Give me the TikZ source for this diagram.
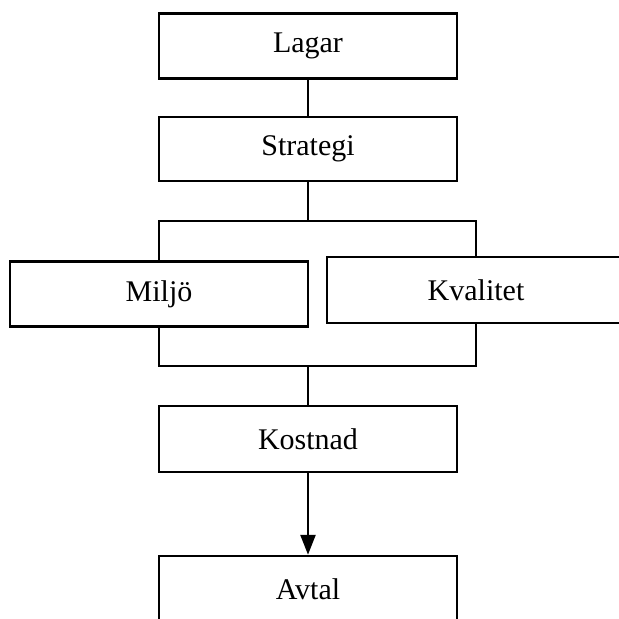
\documentclass[tikz,border=0pt]{standalone}
\usepackage{fontspec}
\setmainfont{Liberation Serif}
\usetikzlibrary{arrows.meta}

\begin{document}
\begin{tikzpicture}[
    x=1pt, y=-1pt,
    box/.style={draw, line width=2.5pt, fill=white, minimum width=298pt, inner sep=0pt, font=\fontsize{30}{36}\selectfont},
    conn/.style={line width=2.5pt},
    flow/.style={line width=2.5pt, -{Triangle[length=20pt, width=15pt]}}
]

\useasboundingbox (0, 0) rectangle (619, 619);

% --- Cajas ---
\node[box, minimum height=65pt] (lagar) at (308, 46) {Lagar};
\node[box, minimum height=64pt] (strategi) at (308, 149) {Strategi};
\node[box, minimum height=65pt] (miljo) at (159, 294) {Miljö};
\node[box, minimum height=66pt] (kvalitet) at (476, 290) {Kvalitet};
\node[box, minimum height=66pt] (kostnad) at (308, 439) {Kostnad};
\node[box, minimum height=66pt] (avtal) at (308, 589) {Avtal};

% --- Puntos de union ---
\coordinate (split) at (308, 221);
\coordinate (join) at (308, 366);

% --- Conexiones ---
\draw[conn] (lagar.south) -- (strategi.north);
\draw[conn] (strategi.south) -- (split);
\draw[conn] (miljo.north) |- (split) -| (kvalitet.north);
\draw[conn] (miljo.south) |- (join) -| (kvalitet.south);
\draw[conn] (join) -- (kostnad.north);

% --- Flecha final ---
\draw[flow] (kostnad.south) -- (avtal.north);

\end{tikzpicture}
\end{document}
